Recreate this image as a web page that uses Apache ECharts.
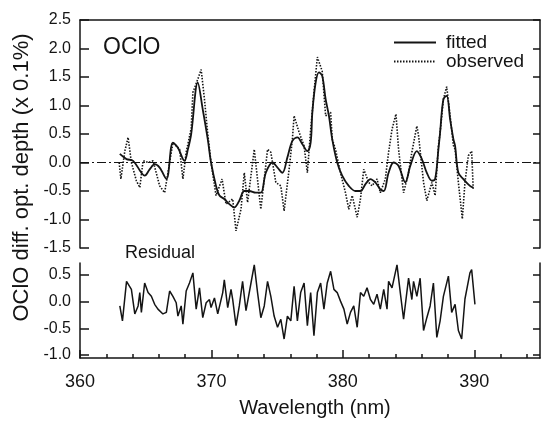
<!DOCTYPE html>
<html>
<head>
<meta charset="utf-8">
<script src="https://cdn.jsdelivr.net/npm/echarts@6/dist/echarts.min.js"></script>
<style>
  html, body { margin: 0; padding: 0; background: #fff; }
  #chart { width: 541px; height: 427px; }
</style>
</head>
<body>
<div id="chart"></div>
<script>
// fitted OClO differential optical depth (x 0.1%)
const fitWl = [363.03, 363.54, 364.04, 364.67, 364.92, 365.30, 365.68, 366.06, 366.57, 367.07,
  367.45, 367.95, 368.21, 368.46, 368.96, 369.34, 369.72, 369.97, 370.35, 370.61,
  370.98, 371.36, 371.74, 372.12, 372.50, 372.88, 373.38, 373.76, 374.14, 374.65,
  375.03, 375.40, 375.78, 376.16, 376.54, 376.92, 377.30, 377.55, 377.68, 377.93,
  378.18, 378.43, 378.69, 378.94, 379.19, 379.57, 379.95, 380.45, 380.96, 381.34,
  381.72, 382.10, 382.47, 382.85, 383.11, 383.48, 383.86, 384.24, 384.75, 385.13,
  385.63, 386.01, 386.39, 386.77, 387.02, 387.27, 387.40, 387.65, 387.90, 388.16,
  388.41, 388.54, 388.79, 389.17, 389.67, 389.92];
const fitVal = [0.15, 0.06, 0.03, -0.18, -0.23, -0.12, -0.03, -0.09, -0.29, 0.35,
  0.26, 0.03, 0.23, 0.50, 1.40, 0.93, 0.41, 0.00, -0.41, -0.58,
  -0.64, -0.73, -0.79, -0.67, -0.50, -0.50, -0.53, -0.53, -0.18, 0.00,
  -0.09, -0.18, 0.09, 0.38, 0.44, 0.32, 0.20, 0.35, 0.88, 1.40,
  1.58, 1.52, 1.11, 0.82, 0.41, 0.00, -0.23, -0.41, -0.50, -0.50,
  -0.38, -0.29, -0.35, -0.47, -0.50, -0.18, 0.00, -0.06, -0.35, -0.06,
  0.20, 0.06, -0.18, -0.32, -0.29, 0.23, 0.53, 1.11, 1.17, 0.76,
  0.41, 0.29, -0.18, -0.29, -0.41, -0.44];

// observed
const obsWl = [362.98, 363.11, 363.41, 363.66, 363.91, 364.29, 364.55, 364.80, 365.18, 365.56,
  366.06, 366.44, 366.82, 367.07, 367.58, 367.83, 368.08, 368.46, 368.59, 368.96,
  369.22, 369.47, 369.72, 369.97, 370.35, 370.81, 371.11, 371.62, 371.87, 372.25,
  372.50, 372.75, 373.26, 373.64, 373.76, 374.27, 374.52, 374.90, 375.28, 375.53,
  375.91, 376.16, 376.29, 376.67, 377.05, 377.30, 377.55, 377.80, 378.06, 378.43,
  378.69, 379.07, 379.19, 379.44, 379.82, 380.20, 380.45, 380.71, 381.09, 381.34,
  381.59, 381.97, 382.22, 382.60, 382.85, 383.23, 383.48, 383.74, 384.04, 384.24,
  384.62, 385.00, 385.25, 385.63, 385.76, 386.14, 386.39, 386.77, 387.02, 387.27,
  387.40, 387.65, 387.90, 388.16, 388.41, 388.54, 388.79, 389.09, 389.29, 389.55,
  389.80, 389.92];
const obsVal = [0.00, -0.29, 0.20, 0.44, 0.00, -0.32, -0.44, 0.03, 0.00, 0.03,
  -0.41, -0.53, 0.00, 0.35, 0.23, -0.29, 0.18, 0.60, 1.23, 1.46,
  1.63, 1.11, 0.50, 0.00, -0.58, -0.29, -0.73, -0.64, -1.20, -0.82,
  -0.18, -0.70, 0.23, -0.58, -0.82, 0.23, 0.18, -0.35, -0.41, -0.85,
  -0.12, 0.41, 0.82, 0.53, 0.29, -0.18, 0.58, 1.23, 1.85, 1.60,
  0.82, 0.88, 0.41, 0.23, -0.18, -0.53, -0.82, -0.58, -0.96, -0.64,
  -0.12, -0.35, -0.41, -0.29, -0.53, -0.29, 0.18, 0.58, 0.85, 0.23,
  -0.53, -0.18, 0.18, 0.64, 0.47, -0.35, -0.67, -0.35, -0.58, 0.29,
  0.53, 1.11, 1.33, 0.82, 0.30, 0.23, -0.35, -0.99, -0.35, 0.12,
  0.20, -0.47];

// residual
const resWl = [363.03, 363.23, 363.54, 363.66, 363.91, 364.17, 364.42, 364.55, 364.67, 364.92,
  365.18, 365.43, 365.68, 365.93, 366.31, 366.57, 366.82, 367.07, 367.32, 367.45,
  367.70, 367.83, 368.08, 368.33, 368.59, 368.84, 369.09, 369.34, 369.60, 369.85,
  369.97, 370.23, 370.48, 370.86, 370.98, 371.24, 371.49, 371.62, 371.87, 372.12,
  372.37, 372.63, 373.01, 373.26, 373.51, 373.76, 374.02, 374.27, 374.52, 374.77,
  375.03, 375.28, 375.53, 375.78, 376.04, 376.29, 376.54, 376.79, 377.05, 377.30,
  377.55, 377.80, 378.06, 378.31, 378.56, 378.81, 379.07, 379.32, 379.57, 379.82,
  380.08, 380.33, 380.58, 380.83, 381.09, 381.34, 381.59, 381.84, 382.10, 382.35,
  382.60, 382.85, 383.11, 383.36, 383.48, 383.74, 384.12, 384.37, 384.62, 385.00,
  385.25, 385.38, 385.63, 385.88, 386.14, 386.39, 386.64, 386.89, 387.15, 387.40,
  387.65, 388.03, 388.28, 388.54, 388.79, 389.04, 389.29, 389.67, 389.80, 390.05];
const resVal = [-0.08, -0.36, 0.38, 0.41, 0.23, -0.23, -0.08, 0.17, -0.20, 0.35,
  0.17, 0.10, -0.05, -0.14, -0.23, -0.20, 0.20, 0.10, -0.02, -0.27,
  -0.08, -0.42, 0.20, 0.35, 0.54, -0.14, 0.26, -0.30, -0.02, 0.04,
  -0.11, 0.07, -0.23, 0.17, 0.41, -0.11, 0.23, 0.04, -0.45, -0.08,
  0.38, -0.17, 0.35, 0.69, 0.17, -0.30, -0.08, 0.38, 0.10, -0.27,
  -0.48, -0.33, -0.70, -0.27, -0.36, 0.29, -0.36, 0.17, 0.35, -0.45,
  0.17, -0.64, 0.17, 0.35, -0.14, 0.35, 0.57, 0.23, 0.17, 0.01,
  -0.14, -0.42, -0.20, -0.08, -0.48, 0.17, 0.10, 0.26, 0.04, -0.05,
  0.14, -0.14, 0.23, -0.14, 0.38, 0.26, 0.69, 0.17, -0.33, 0.44,
  0.04, 0.38, 0.10, 0.44, -0.54, -0.30, -0.08, 0.35, -0.67, -0.36,
  0.10, 0.48, -0.20, -0.05, -0.54, -0.70, 0.05, 0.54, 0.60, -0.05];

const xMajorTicks = [360, 370, 380, 390];
const xMinorTicks = [362, 364, 366, 368, 372, 374, 376, 378, 382, 384, 386, 388, 392, 394];
const resTicks = [-1.0, -0.5, 0.0, 0.5];

const FONT = 'Liberation Sans, Arial, Helvetica, sans-serif';
const INK = '#141414';

const pairs = (xs, ys) => xs.map((x, i) => [x, ys[i]]);

const chart = echarts.init(document.getElementById('chart'), null, { renderer: 'canvas' });

const yLabel = {
  fontSize: 16, fontFamily: FONT, color: INK, margin: 9,
  formatter: v => v.toFixed(1)
};

const option = {
  animation: false,
  backgroundColor: '#fff',
  grid: [
    { left: 80, top: 20, width: 460, height: 228 },
    { left: 80, top: 263, width: 460, height: 95 }
  ],
  legend: {
    orient: 'vertical',
    left: 393,
    top: 33,
    padding: 0,
    itemWidth: 42,
    itemHeight: 10,
    itemGap: 0,
    itemStyle: { opacity: 0 },   // hide the marker dot, keep the line sample
    data: ['fitted', 'observed'],
    textStyle: { fontSize: 19, fontFamily: FONT, color: INK, lineHeight: 17, padding: [0, 0, 0, 5] }
  },
  xAxis: [
    { gridIndex: 0, type: 'value', min: 360, max: 395, show: false },
    {
      gridIndex: 0, type: 'value', min: 360, max: 395, position: 'top',
      axisLine: { show: true, onZero: false, lineStyle: { color: INK, width: 1.5 } },
      axisTick: { show: false }, axisLabel: { show: false }, splitLine: { show: false }
    },
    {
      gridIndex: 1, type: 'value', min: 360, max: 395, position: 'bottom',
      axisLine: { show: true, onZero: false, lineStyle: { color: INK, width: 1.5 } },
      axisTick: { show: true, inside: true, length: 8, customValues: xMajorTicks, lineStyle: { color: INK, width: 1.5 } },
      axisLabel: { fontSize: 18, fontFamily: FONT, color: INK, margin: 15, customValues: xMajorTicks },
      splitLine: { show: false }
    },
    {
      gridIndex: 1, type: 'value', min: 360, max: 395, position: 'bottom',
      axisLine: { show: false, onZero: false },
      axisTick: { show: true, inside: true, length: 4, customValues: xMinorTicks, lineStyle: { color: INK, width: 1.5 } },
      axisLabel: { show: false },
      splitLine: { show: false }
    }
  ],
  yAxis: [
    {
      gridIndex: 0, type: 'value', min: -1.5, max: 2.5, interval: 0.5,
      axisLine: { show: true, lineStyle: { color: INK, width: 1.5 } },
      axisTick: { show: true, inside: true, length: 9, lineStyle: { color: INK, width: 1.5 } },
      axisLabel: yLabel,
      splitLine: { show: false }
    },
    {
      gridIndex: 0, type: 'value', min: -1.5, max: 2.5, interval: 0.5, position: 'right',
      axisLine: { show: true, lineStyle: { color: INK, width: 1.5 } },
      axisTick: { show: true, inside: true, length: 7, lineStyle: { color: INK, width: 1.5 } },
      axisLabel: { show: false },
      splitLine: { show: false }
    },
    {
      gridIndex: 1, type: 'value', min: -1.056, max: 0.725,
      axisLine: { show: true, lineStyle: { color: INK, width: 1.5 } },
      axisTick: { show: true, inside: true, length: 9, customValues: resTicks, lineStyle: { color: INK, width: 1.5 } },
      axisLabel: Object.assign({ customValues: resTicks }, yLabel),
      splitLine: { show: false }
    },
    {
      gridIndex: 1, type: 'value', min: -1.056, max: 0.725, position: 'right',
      axisLine: { show: true, lineStyle: { color: INK, width: 1.5 } },
      axisTick: { show: true, inside: true, length: 7, customValues: resTicks, lineStyle: { color: INK, width: 1.5 } },
      axisLabel: { show: false },
      splitLine: { show: false }
    }
  ],
  series: [
    {
      name: 'fitted', type: 'line', xAxisIndex: 0, yAxisIndex: 0,
      data: pairs(fitWl, fitVal),
      symbol: 'none', smooth: 0.35,
      lineStyle: { color: INK, width: 1.8 },
      itemStyle: { color: INK },
      markLine: {
        silent: true, symbol: ['none', 'none'], label: { show: false },
        lineStyle: { color: INK, width: 1, type: [9, 3, 2, 3] },
        data: [{ yAxis: 0 }]
      }
    },
    {
      name: 'observed', type: 'line', xAxisIndex: 0, yAxisIndex: 0,
      data: pairs(obsWl, obsVal),
      symbol: 'none',
      lineStyle: { color: INK, width: 1.6, type: [1.5, 1.5] },
      itemStyle: { color: INK }
    },
    {
      name: 'residual', type: 'line', xAxisIndex: 2, yAxisIndex: 2,
      data: pairs(resWl, resVal),
      symbol: 'none',
      lineStyle: { color: INK, width: 1.5 },
      itemStyle: { color: INK }
    }
  ],
  graphic: [
    {
      type: 'text', x: 22, y: 177.5, rotation: Math.PI / 2,
      style: { text: 'OClO diff. opt. depth (x 0.1%)', fontSize: 22, fontFamily: FONT, fill: INK, align: 'center', verticalAlign: 'middle' }
    },
    {
      type: 'text', x: 315, y: 408.5,
      style: { text: 'Wavelength (nm)', fontSize: 20, fontFamily: FONT, fill: INK, align: 'center', verticalAlign: 'middle' }
    },
    {
      type: 'text', x: 103, y: 47.5,
      style: { text: 'OClO', fontSize: 23, fontFamily: FONT, fill: INK, align: 'left', verticalAlign: 'middle' }
    },
    {
      type: 'text', x: 125, y: 253,
      style: { text: 'Residual', fontSize: 18, fontFamily: FONT, fill: INK, align: 'left', verticalAlign: 'middle' }
    }
  ]
};

chart.setOption(option);
</script>
</body>
</html>
